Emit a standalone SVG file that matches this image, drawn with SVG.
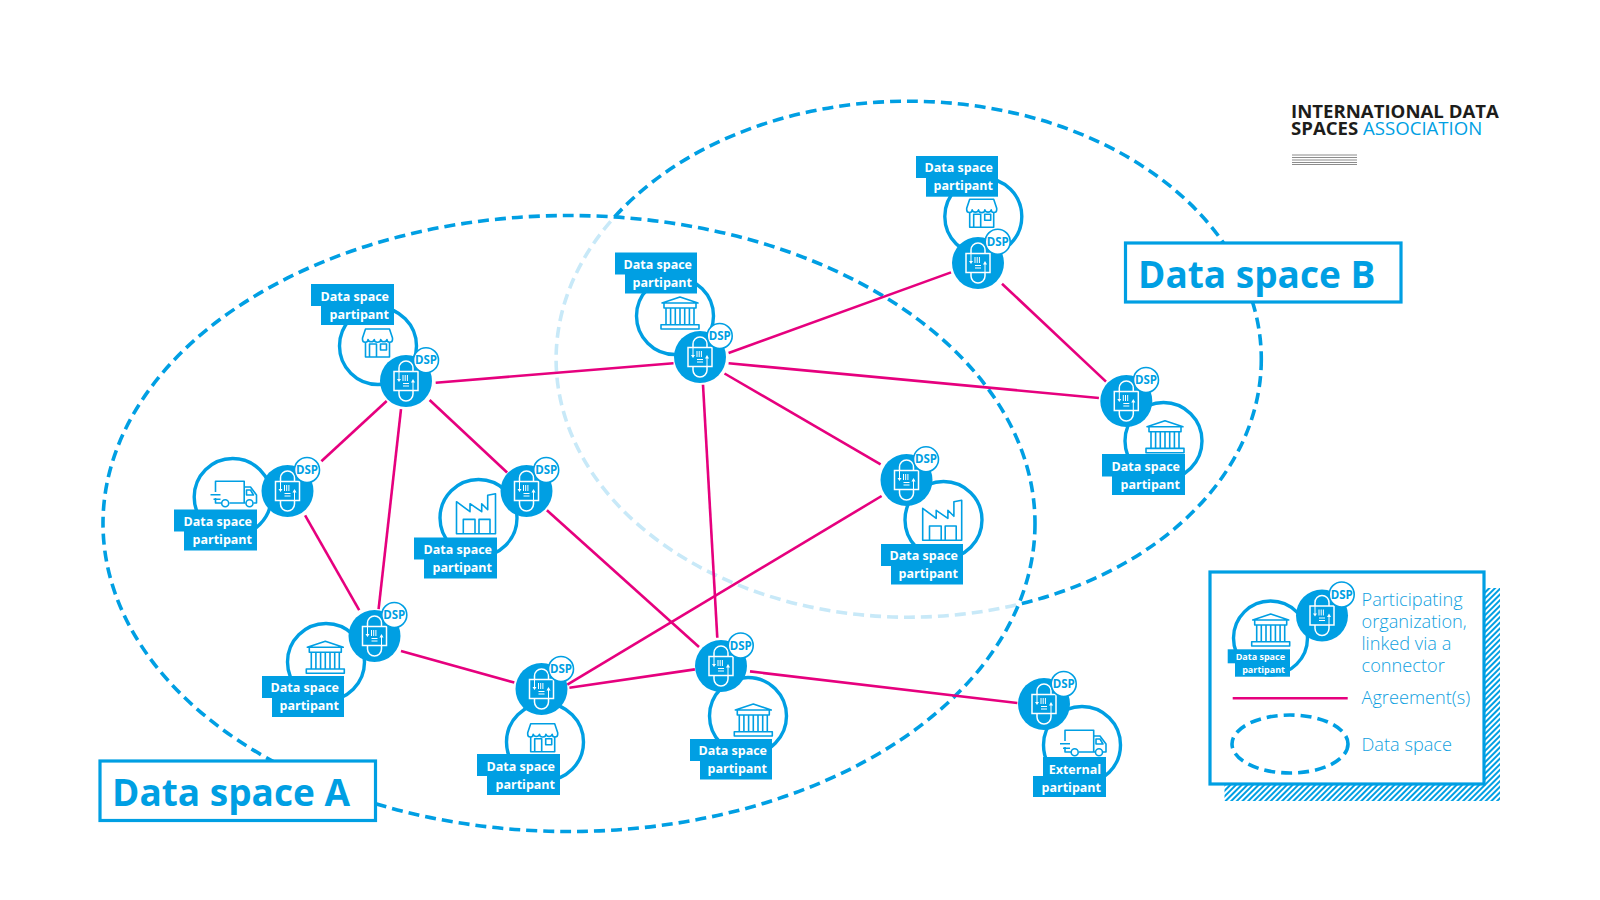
<svg xmlns="http://www.w3.org/2000/svg" width="1600" height="900" viewBox="0 0 1600 900">
<style>
text{font-family:"Open Sans","Noto Sans",sans-serif}
.bg{fill:#fff}
.ds{fill:none;stroke:#009fe3;stroke-width:3.6;stroke-dasharray:11 6}
.dsl{fill:none;stroke:#c8e9f8;stroke-width:3.6;stroke-dasharray:11 6}
.ag{stroke:#e6007e;stroke-width:2.6;fill:none}
.org{fill:#fff;stroke:#009fe3;stroke-width:3.4}
.box{fill:#009fe3}
.lb{fill:#fff;font-size:12.5px;font-weight:700;text-anchor:end}
.lbs{fill:#fff;font-size:9px;font-weight:700;text-anchor:end}
.dsp{fill:#009fe3;font-size:11.5px;font-weight:700;text-anchor:middle}
.dc{fill:#fff;stroke:#009fe3;stroke-width:1.6}
.ic{fill:none;stroke:#009fe3;stroke-width:1.6;stroke-linejoin:round}
.cw{fill:none;stroke:#fff;stroke-width:1.5}
.cf{fill:none;stroke:#fff;stroke-width:1}
.frame{fill:#fff;stroke:#009fe3;stroke-width:3.2}
.big{fill:#009fe3;font-size:37px;font-weight:700}
.lg{fill:#109fe0;font-size:18.2px;font-weight:300}
</style>
<defs>
<clipPath id="inA"><ellipse cx="569" cy="523.5" rx="466" ry="308"/></clipPath>
<clipPath id="outA"><path clip-rule="evenodd" d="M0 0H1600V900H0Z M103 523.5A466 308 0 0 0 1035 523.5A466 308 0 0 0 103 523.5Z"/></clipPath>
<pattern id="hatch" width="4" height="4" patternUnits="userSpaceOnUse" patternTransform="rotate(45)"><rect width="4" height="4" fill="#fff"/><rect width="2" height="4" fill="#009fe3"/></pattern>
<g id="conn">
<circle r="26" fill="#009fe3"/>
<rect x="-7" y="-20" width="14" height="40" rx="7" class="cw"/>
<rect x="-12" y="-9.500" width="24" height="19" fill="#009fe3" stroke="#fff" stroke-width="1.500"/>
<path class="cf" d="M-3-6V0M-.8-6V0M1.400-6V0M-3 2.500H3M-3 5H3M-7-9.500V-1M7 9.500V1"/>
<path fill="#fff" d="M-9-2H-5L-7 1ZM5 1.500H9L7-2Z"/>
</g>
<g id="store" class="ic">
<path d="M-12-14H12L15-5V-3.500A2.500 2.500 0 0 1 9.500-3.500A3.200 2.800 0 0 1 3.200-3.500A3.200 2.800 0 0 1-3.200-3.500A3.200 2.800 0 0 1-9.500-3.500A2.500 2.500 0 0 1-15-3.500V-5Z"/>
<path d="M-12-1V14H12V-1M-8 14V1H-1V14M3 1H9V7H3Z"/>
</g>
<g id="truck" class="ic">
<path d="M-18 -2V-12.700H10.700V9H-4M-18 4V9H-12M10.700-7H17L23 1V9H20M10.700 9H12M13-4H17L20 1H13Z"/>
<circle cx="-8.300" cy="9.300" r="3.500"/><circle cx="16" cy="9.300" r="3.500"/>
<path d="M-23 .7H-13M-20 5.300H-13"/>
</g>
<g id="factory" class="ic">
<path d="M-19.500-12L-6-2V-10L5.700-2V-10L11.700-4V-18.500L19.500-20V20H-19.500Z"/>
<path d="M-12.700 20V5.700H-1V20M3 20V5.700H14V20"/>
</g>
<g id="bank" class="ic">
<path d="M-18-10L0-16L18-10ZM-16-10V-5H16V-10M-19 16V11.700H19V16ZM-14-5V11.700M-9.400-5V11.700M-4.700-5V11.700M0-5V11.700M4.700-5V11.700M9.400-5V11.700M14-5V11.700"/>
</g>
</defs>
<rect class="bg" width="1600" height="900"/>

<g id="data-spaces">
<ellipse class="ds" cx="908.700" cy="359.200" rx="352.600" ry="258" clip-path="url(#outA)"/>
<ellipse class="dsl" cx="908.700" cy="359.200" rx="352.600" ry="258" clip-path="url(#inA)"/>
<ellipse class="ds" cx="569" cy="523.500" rx="466" ry="308"/>
</g>

<g id="connectors">
<line class="ag" x1="435.700" y1="382.700" x2="673.500" y2="363.300"/>
<line class="ag" x1="386.700" y1="401" x2="321.400" y2="461.200"/>
<line class="ag" x1="429.600" y1="400" x2="507.100" y2="472.500"/>
<line class="ag" x1="401" y1="409.200" x2="378.600" y2="609.200"/>
<line class="ag" x1="305.100" y1="515.300" x2="359.200" y2="610.200"/>
<line class="ag" x1="546.900" y1="510.200" x2="699" y2="647"/>
<line class="ag" x1="401" y1="651" x2="514.300" y2="682.600"/>
<line class="ag" x1="569.400" y1="687.800" x2="694.900" y2="669.400"/>
<line class="ag" x1="567.300" y1="684.700" x2="881.600" y2="496"/>
<line class="ag" x1="750" y1="671.400" x2="1017.300" y2="703"/>
<line class="ag" x1="717.300" y1="637.800" x2="703" y2="384.700"/>
<line class="ag" x1="724.500" y1="373.500" x2="880.600" y2="464.300"/>
<line class="ag" x1="728.600" y1="363.300" x2="1098.900" y2="398"/>
<line class="ag" x1="728.600" y1="353" x2="951" y2="272.400"/>
<line class="ag" x1="1002" y1="283.700" x2="1106" y2="381.600"/>
</g>

<g id="node-1">
<circle class="org" cx="378" cy="346" r="38.500"/><use href="#store" x="377.500" y="343"/>
<rect class="box" x="311" y="284" width="83" height="22"/><rect class="box" x="321" y="304" width="73" height="21"/>
<text class="lb" x="389" y="300.700">Data space</text><text class="lb" x="389" y="318.700">partipant</text>
<use href="#conn" x="406" y="381"/><circle class="dc" cx="426" cy="360.200" r="12.500"/><text class="dsp" x="426" y="364.200">DSP</text>
</g>
<g id="node-2">
<circle class="org" cx="232.700" cy="497" r="38.500"/><use href="#truck" x="233.500" y="494"/>
<rect class="box" x="174" y="509.500" width="83" height="22"/><rect class="box" x="184" y="529.500" width="73" height="21"/>
<text class="lb" x="252" y="526.200">Data space</text><text class="lb" x="252" y="544.200">partipant</text>
<use href="#conn" x="287.500" y="491"/><circle class="dc" cx="307" cy="470" r="12.500"/><text class="dsp" x="307" y="474">DSP</text>
</g>
<g id="node-3">
<circle class="org" cx="478.500" cy="518" r="38.500"/><use href="#factory" x="476" y="513.700"/>
<rect class="box" x="414" y="537.500" width="83" height="22"/><rect class="box" x="424" y="557.500" width="73" height="21"/>
<text class="lb" x="492" y="554.200">Data space</text><text class="lb" x="492" y="572.200">partipant</text>
<use href="#conn" x="526.500" y="491"/><circle class="dc" cx="546.200" cy="470" r="12.500"/><text class="dsp" x="546.200" y="474">DSP</text>
</g>
<g id="node-4">
<circle class="org" cx="326" cy="662" r="38.500"/><use href="#bank" x="325.300" y="657.300"/>
<rect class="box" x="262" y="676" width="82" height="22"/><rect class="box" x="272" y="696" width="72" height="21"/>
<text class="lb" x="339" y="692">Data space</text><text class="lb" x="339" y="710">partipant</text>
<use href="#conn" x="374.500" y="636"/><circle class="dc" cx="394.300" cy="615" r="12.500"/><text class="dsp" x="394.300" y="619">DSP</text>
</g>
<g id="node-5">
<circle class="org" cx="545" cy="742" r="38.500"/><use href="#store" x="542.700" y="737.700"/>
<rect class="box" x="477" y="754" width="83" height="22"/><rect class="box" x="487" y="774" width="73" height="21"/>
<text class="lb" x="555" y="770.700">Data space</text><text class="lb" x="555" y="788.700">partipant</text>
<use href="#conn" x="541.500" y="689"/><circle class="dc" cx="561" cy="669" r="12.500"/><text class="dsp" x="561" y="673">DSP</text>
</g>
<g id="node-6">
<circle class="org" cx="748" cy="716" r="38.500"/><use href="#bank" x="753.300" y="720"/>
<rect class="box" x="690" y="739" width="82" height="22"/><rect class="box" x="700" y="759" width="72" height="20.500"/>
<text class="lb" x="767" y="755">Data space</text><text class="lb" x="767" y="773">partipant</text>
<use href="#conn" x="721" y="666"/><circle class="dc" cx="740.700" cy="645.500" r="12.500"/><text class="dsp" x="740.700" y="649.500">DSP</text>
</g>
<g id="node-7">
<circle class="org" cx="675" cy="316" r="38.500"/><use href="#bank" x="680" y="313"/>
<rect class="box" x="615" y="252.500" width="82" height="22"/><rect class="box" x="625" y="272.500" width="72" height="21"/>
<text class="lb" x="692" y="269">Data space</text><text class="lb" x="692" y="287">partipant</text>
<use href="#conn" x="700" y="357"/><circle class="dc" cx="719.700" cy="336" r="12.500"/><text class="dsp" x="719.700" y="340">DSP</text>
</g>
<g id="node-8">
<circle class="org" cx="943.500" cy="520" r="38.500"/><use href="#factory" x="942.200" y="520.300"/>
<rect class="box" x="881" y="544" width="82" height="22"/><rect class="box" x="891" y="564" width="72" height="20.500"/>
<text class="lb" x="958" y="560.300">Data space</text><text class="lb" x="958" y="578.300">partipant</text>
<use href="#conn" x="906.500" y="480"/><circle class="dc" cx="926" cy="459.300" r="12.500"/><text class="dsp" x="926" y="463.300">DSP</text>
</g>
<g id="node-9">
<circle class="org" cx="983.300" cy="216.500" r="38.500"/><use href="#store" x="981.700" y="213.300"/>
<rect class="box" x="916" y="156" width="82" height="22"/><rect class="box" x="926" y="176" width="72" height="20.700"/>
<text class="lb" x="993" y="172.200">Data space</text><text class="lb" x="993" y="190.200">partipant</text>
<use href="#conn" x="978" y="263"/><circle class="dc" cx="997.700" cy="241.700" r="12.500"/><text class="dsp" x="997.700" y="245.700">DSP</text>
</g>
<g id="node-10">
<circle class="org" cx="1163.500" cy="441" r="38.500"/><use href="#bank" x="1165" y="436.700"/>
<rect class="box" x="1102" y="454" width="83" height="22.500"/><rect class="box" x="1112" y="474" width="73" height="21"/>
<text class="lb" x="1180" y="470.700">Data space</text><text class="lb" x="1180" y="488.700">partipant</text>
<use href="#conn" x="1126.300" y="401"/><circle class="dc" cx="1146" cy="380" r="12.500"/><text class="dsp" x="1146" y="384">DSP</text>
</g>
<g id="node-11">
<circle class="org" cx="1082" cy="745" r="38.500"/><use href="#truck" x="1083" y="743"/>
<rect class="box" x="1043" y="757" width="63" height="20"/><rect class="box" x="1033" y="776" width="73" height="21"/>
<text class="lb" x="1101" y="774">External</text><text class="lb" x="1101" y="792">partipant</text>
<use href="#conn" x="1044" y="704"/><circle class="dc" cx="1063.700" cy="684" r="12.500"/><text class="dsp" x="1063.700" y="688">DSP</text>
</g>

<g id="label-a"><rect class="frame" x="100" y="761" width="275.500" height="59.500"/><text class="big" x="112" y="806">Data space A</text></g>
<g id="label-b"><rect class="frame" x="1125.500" y="243" width="275.500" height="59"/><text class="big" x="1138" y="288">Data space B</text></g>

<g id="logo">
<text x="1291" y="118" font-size="18.600" font-weight="700" fill="#1d1d1b">INTERNATIONAL DATA</text>
<text x="1291" y="135" font-size="18.600" font-weight="700" fill="#1d1d1b">SPACES <tspan font-weight="400" fill="#009fe3">ASSOCIATION</tspan></text>
<path d="M1292 155H1357M1292 157.500H1357M1292 160H1357M1292 162.500H1357M1292 164.500H1357" stroke="#8c8c8c" stroke-width="1.200" fill="none"/>
</g>

<g id="legend">
<rect x="1224.500" y="785" width="275.500" height="16" fill="url(#hatch)"/>
<rect x="1485" y="588" width="15" height="213" fill="url(#hatch)"/>
<rect class="frame" x="1210" y="572" width="274" height="212"/>
<circle class="org" cx="1270.500" cy="638" r="37"/><use href="#bank" x="1270.700" y="630"/>
<rect class="box" x="1227.700" y="649.300" width="62.300" height="14"/><rect class="box" x="1235" y="663" width="55" height="13.700"/>
<text class="lbs" x="1285" y="660">Data space</text><text class="lbs" x="1285" y="673">partipant</text>
<use href="#conn" x="1322" y="615.500"/><circle class="dc" cx="1341.700" cy="594.500" r="12.500"/><text class="dsp" x="1341.700" y="598.500">DSP</text>
<text class="lg" x="1361.500" y="606">Participating</text><text class="lg" x="1361.500" y="628">organization,</text><text class="lg" x="1361.500" y="650">linked via a</text><text class="lg" x="1361.500" y="672">connector</text>
<line class="ag" x1="1232.700" y1="698.300" x2="1347.700" y2="698.300"/>
<text class="lg" x="1361.500" y="704">Agreement(s)</text>
<ellipse class="ds" cx="1290" cy="744" rx="58" ry="29"/>
<text class="lg" x="1361.500" y="751">Data space</text>
</g>
</svg>
